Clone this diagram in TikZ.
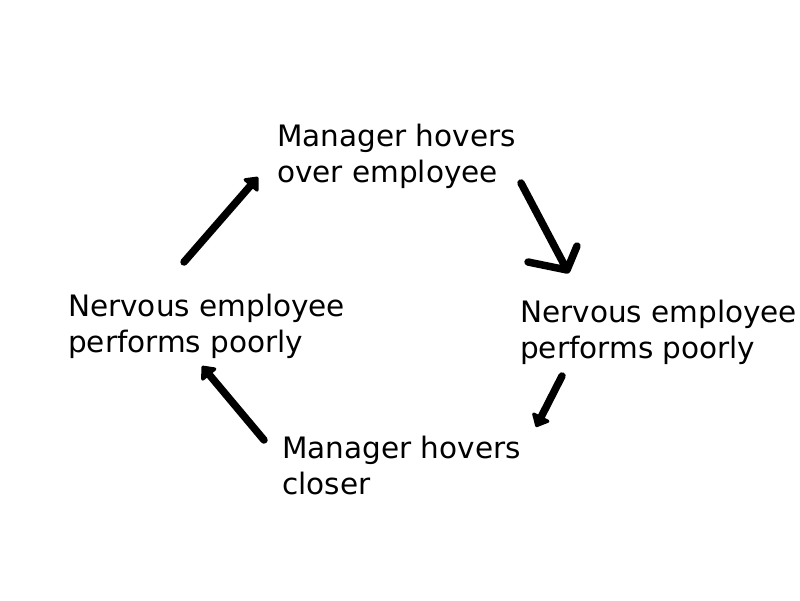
\documentclass[tikz,border=0pt]{standalone}
\usepackage{fontspec}
\setmainfont{DejaVu Sans}
\usetikzlibrary{arrows.meta}
\begin{document}
\begin{tikzpicture}[x=1pt,y=-1pt,
	step text/.style={anchor=north west,inner sep=0pt,align=left,font=\fontsize{29.5}{36}\selectfont},
	stroke/.style={line width=7.5pt,line cap=round,line join=round},
	cycle arrow/.style={stroke,-{Triangle[round,length=13pt,width=22pt]}}]
	\useasboundingbox (0,0) rectangle (800,600);
	\node[step text] (hovers) at (277,124) {Manager hovers\\over employee};
	\node[step text] (poorlyR) at (520,300) {Nervous employee\\performs poorly};
	\node[step text] (closer) at (282,436) {Manager hovers\\closer};
	\node[step text] (poorlyL) at (68,294) {Nervous employee\\performs poorly};
	% arrow ends
	\coordinate (a1) at (184,262); \coordinate (b1) at (258,177);
	\coordinate (a2) at (521,183); \coordinate (b2) at (567,270);
	\coordinate (c2) at (528,262); \coordinate (d2) at (577,246);
	\coordinate (a3) at (562,376); \coordinate (b3) at (536,427);
	\coordinate (a4) at (264,440); \coordinate (b4) at (202,366);
	\draw[cycle arrow] (a1) -- (b1);
	\draw[stroke] (a2) -- (b2) (c2) -- (b2) -- (d2);
	\draw[cycle arrow] (a3) -- (b3);
	\draw[cycle arrow] (a4) -- (b4);
\end{tikzpicture}
\end{document}
